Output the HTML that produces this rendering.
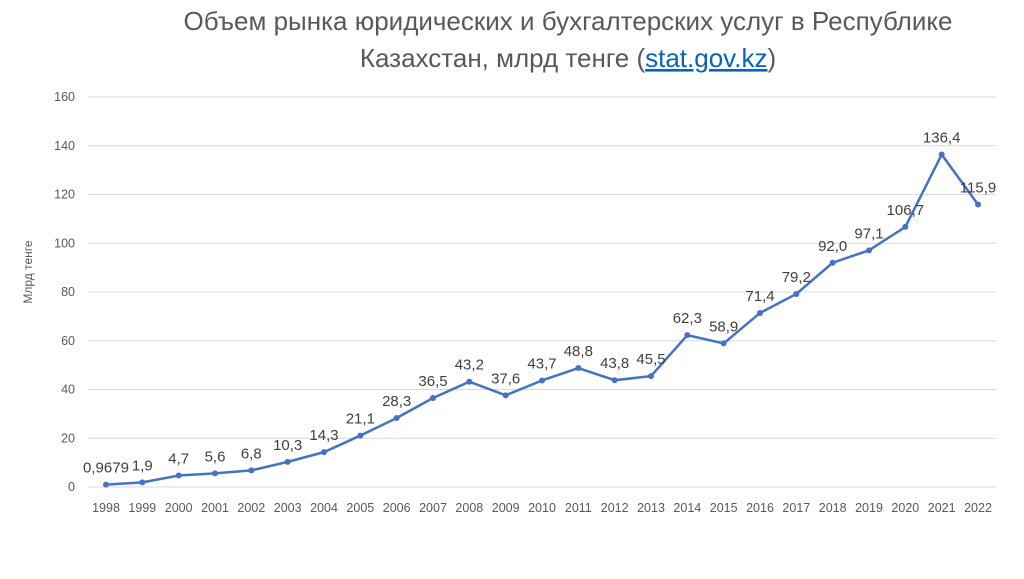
<!DOCTYPE html>
<html><head><meta charset="utf-8"><style>
body{margin:0;background:#fff;width:1024px;height:574px;overflow:hidden;font-family:"Liberation Sans",sans-serif}
</style></head><body>
<svg id="c" width="1024" height="574" xmlns="http://www.w3.org/2000/svg" font-family="Liberation Sans, sans-serif">
<text x="568" y="30" text-anchor="middle" font-size="26" fill="#595959">Объем рынка юридических и бухгалтерских услуг в Республике</text>
<text x="568" y="67" text-anchor="middle" font-size="26" fill="#595959">Казахстан, млрд тенге (<tspan fill="#0563c1" text-decoration="underline">stat.gov.kz</tspan>)</text>
<text transform="translate(32,272) rotate(-90)" text-anchor="middle" font-size="12" fill="#595959">Млрд тенге</text>
<g id="grid"></g><g id="marks"></g>
</svg>
<script>
const years=['1998','1999','2000','2001','2002','2003','2004','2005','2006','2007','2008','2009','2010','2011','2012','2013','2014','2015','2016','2017','2018','2019','2020','2021','2022'];
const values=[0.9679,1.9,4.7,5.6,6.8,10.3,14.3,21.1,28.3,36.5,43.2,37.6,43.7,48.8,43.8,45.5,62.3,58.9,71.4,79.2,92.0,97.1,106.7,136.4,115.9];
const labels=['0,9679','1,9','4,7','5,6','6,8','10,3','14,3','21,1','28,3','36,5','43,2','37,6','43,7','48,8','43,8','45,5','62,3','58,9','71,4','79,2','92,0','97,1','106,7','136,4','115,9'];
const yTicks=[0,20,40,60,80,100,120,140,160];
const NS='http://www.w3.org/2000/svg';
const x=i=>106+i*(978-106)/24;
const y=v=>487-v*(487-97)/160;
const grid=document.getElementById('grid'),marks=document.getElementById('marks');
function mk(tag,attrs,parent,text){const e=document.createElementNS(NS,tag);for(const k in attrs)e.setAttribute(k,attrs[k]);if(text!=null)e.textContent=text;parent.appendChild(e);return e;}
yTicks.forEach(t=>{
 const l=mk('line',{x1:88,x2:996,y1:y(t),y2:y(t),stroke:'#d9d9d9','stroke-width':1},grid);
 
 
 const tx=mk('text',{x:75,y:y(t)+4,'text-anchor':'end','font-size':12.5,fill:'#595959'},grid,t);
 
 
});
years.forEach((yr,i)=>{
 const tx=mk('text',{x:x(i),y:512,'text-anchor':'middle','font-size':12.5,fill:'#595959'},grid,yr);
 
 
});
const pl=mk('polyline',{points:values.map((v,i)=>x(i)+','+y(v)).join(' '),fill:'none',stroke:'#4472c4','stroke-width':2.5,'stroke-linejoin':'round'},marks);


values.forEach((v,i)=>{
 const c=mk('circle',{cx:x(i),cy:y(v),r:3,fill:'#4472c4'},marks);
 
 
 const t=mk('text',{x:x(i),y:y(v)-12,'text-anchor':'middle','font-size':15,fill:'#404040'},marks,labels[i]);
 
 
});
</script>
</body></html>
